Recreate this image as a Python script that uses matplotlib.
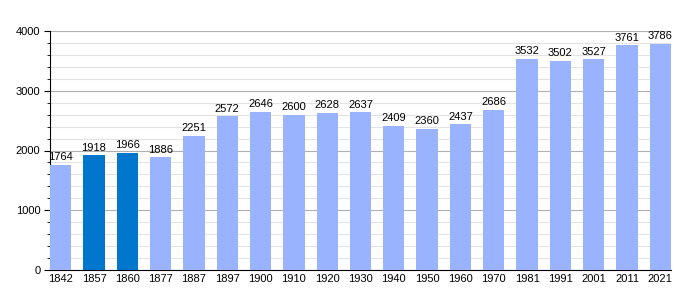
import matplotlib
matplotlib.use('Agg')
import matplotlib.pyplot as plt
from matplotlib.ticker import MultipleLocator

plt.rcParams['font.family'] = ['Liberation Sans', 'DejaVu Sans']

years = ['1842', '1857', '1860', '1877', '1887', '1897', '1900', '1910', '1920', '1930',
         '1940', '1950', '1960', '1970', '1981', '1991', '2001', '2011', '2021']
population = [1764, 1918, 1966, 1886, 2251, 2572, 2646, 2600, 2628, 2637,
              2409, 2360, 2437, 2686, 3532, 3502, 3527, 3761, 3786]
highlight = ['1857', '1860']

light = '#99b3ff'
dark = '#0077cc'

fig = plt.figure(figsize=(7, 3), dpi=100)
ax = fig.add_axes([50/700, 30/300, 621/700, 239/300])

x = list(range(len(years)))
colors = [dark if y in highlight else light for y in years]
bw = 0.64
ax.bar(x, population, width=bw, color=colors, zorder=3)

for xi, v in zip(x, population):
    ax.text(xi, v + 45, str(v), ha='center', va='bottom', fontsize=8, color='black', zorder=4)

ax.set_xlim(-bw/2, len(years) - 1 + bw/2)
ax.set_ylim(0, 4000)
ax.yaxis.set_major_locator(MultipleLocator(1000))
ax.yaxis.set_minor_locator(MultipleLocator(200))
ax.grid(axis='y', which='major', color='#b0b0b0', linewidth=0.8, zorder=0)
ax.grid(axis='y', which='minor', color='#e3e3e3', linewidth=0.8, zorder=0)

ax.set_xticks(x)
ax.set_xticklabels(years)
ax.tick_params(axis='x', length=0, labelsize=8, pad=3)
ax.tick_params(axis='y', which='major', length=4, labelsize=8, pad=3)
ax.tick_params(axis='y', which='minor', length=2)

for s in ['top', 'right']:
    ax.spines[s].set_visible(False)
ax.spines['left'].set_color('black')
ax.spines['bottom'].set_color('black')
ax.spines['left'].set_linewidth(0.8)
ax.spines['bottom'].set_linewidth(0.8)

fig.savefig('out.png', dpi=100)
